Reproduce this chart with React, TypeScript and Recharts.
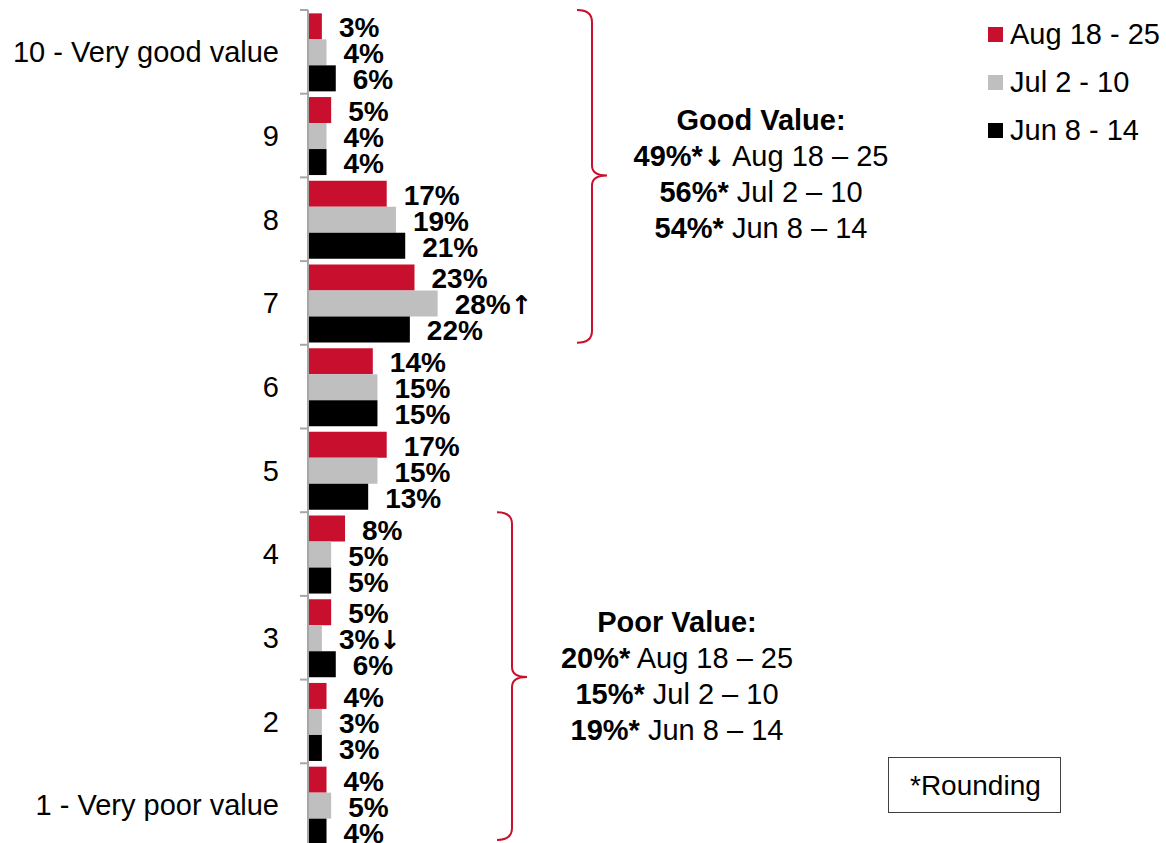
import React from "react";
import { BarChart, Bar, XAxis, YAxis, LabelList, Legend } from "recharts";

// rating categories, top to bottom
const categories = [
  "10 - Very good value",
  "9",
  "8",
  "7",
  "6",
  "5",
  "4",
  "3",
  "2",
  "1 - Very poor value",
];
const aug = [3, 5, 17, 23, 14, 17, 8, 5, 4, 4];
const jul = [4, 4, 19, 28, 15, 15, 5, 3, 3, 5];
const jun = [6, 4, 21, 22, 15, 13, 5, 6, 3, 4];
const julArrows = ["", "", "", "↑", "", "", "", "↓", "", ""];

const seriesNames = ["Aug 18 - 25", "Jul 2 - 10", "Jun 8 - 14"];
const seriesColors = ["#C8102E", "#BFBFBF", "#000000"];

const periods = ["Aug 18 – 25", "Jul 2 – 10", "Jun 8 – 14"];
const goodTotals = ["49%*", "56%*", "54%*"];
const goodArrows = ["↓", "", ""];
const poorTotals = ["20%*", "15%*", "19%*"];

const data = categories.map((name, i) => ({
  name,
  aug: aug[i],
  jul: jul[i],
  jun: jun[i],
  augLabel: `${aug[i]}%`,
  julLabel: `${jul[i]}%${julArrows[i]}`,
  junLabel: `${jun[i]}%`,
}));

const W = 1166;
const H = 850;
const PLOT_TOP = 10;
const PLOT_BOTTOM = 847;
const PLOT_LEFT = 308;
const PLOT_W = 463;
const BAND = (PLOT_BOTTOM - PLOT_TOP) / categories.length;
const FONT = "'Liberation Sans', Arial, sans-serif";
const ARROW_FONT = "'DejaVu Sans', sans-serif";
const RED = "#C8102E";
const AXIS = "#A6A6A6";

// value label with an optional change arrow
const renderBarLabel = (props: any) => {
  const { x, y, width, height, value } = props;
  const s = String(value);
  const m = s.match(/[↑↓]/);
  const main = m ? s.replace(m[0], "") : s;
  return (
    <text
      x={Number(x) + Number(width) + 17}
      y={Number(y) + Number(height) / 2 + 11}
      fontSize={28}
      fontWeight="bold"
      fill="#000"
      fontFamily={FONT}
    >
      {main}
      {m && (
        <tspan fontFamily={ARROW_FONT} fontWeight="bold" fontSize={26}>
          {m[0]}
        </tspan>
      )}
    </text>
  );
};

// curly brace, opening to the left
const brace = (x: number, top: number, bottom: number, tipY: number) => {
  const v = x + 15;
  const t = x + 30;
  return `M${x},${top} Q${v},${top} ${v},${top + 12} L${v},${tipY - 10} Q${v},${tipY} ${t},${tipY} Q${v},${tipY} ${v},${tipY + 10} L${v},${bottom - 12} Q${v},${bottom} ${x},${bottom}`;
};

const renderLegend = () => (
  <div style={{ fontFamily: FONT }}>
    {seriesNames.map((n, i) => (
      <div
        key={n}
        style={{ display: "flex", alignItems: "center", height: 48, fontSize: 29 }}
      >
        <span
          style={{
            width: 15,
            height: 15,
            background: seriesColors[i],
            marginRight: 7,
            display: "inline-block",
          }}
        />
        <span>{n}</span>
      </div>
    ))}
  </div>
);

const Summary = ({
  x,
  y,
  title,
  totals,
  arrows,
}: {
  x: number;
  y: number;
  title: string;
  totals: string[];
  arrows: string[];
}) => (
  <text x={x} textAnchor="middle" fontSize={29} fill="#000">
    <tspan x={x} y={y} fontWeight="bold">
      {title}
    </tspan>
    {totals.map((t, i) => (
      <tspan key={i} x={x} y={y + 36 * (i + 1)}>
        <tspan fontWeight="bold">{t}</tspan>
        {arrows[i] && (
          <tspan fontWeight="bold" fontFamily={ARROW_FONT} fontSize={27}>
            {arrows[i]}
          </tspan>
        )}
        {" " + periods[i]}
      </tspan>
    ))}
  </text>
);

export default function App() {
  const boundaries = Array.from({ length: categories.length + 1 }, (_, i) => PLOT_TOP + i * BAND);
  return (
    <div
      style={{
        position: "fixed",
        left: 0,
        top: 0,
        width: W,
        height: 843,
        overflow: "hidden",
        background: "#fff",
        fontFamily: FONT,
      }}
    >
      <div style={{ position: "relative", width: W, height: H }}>
        <BarChart
          width={W}
          height={H}
          data={data}
          layout="vertical"
          margin={{ top: PLOT_TOP, bottom: H - PLOT_BOTTOM, left: 0, right: W - PLOT_LEFT - PLOT_W }}
          barCategoryGap="4%"
          barGap={0}
        >
          <XAxis type="number" domain={[0, 100]} hide />
          <YAxis
            type="category"
            dataKey="name"
            width={PLOT_LEFT}
            tickLine={false}
            tickSize={0}
            tickMargin={29}
            axisLine={{ stroke: AXIS, strokeWidth: 2 }}
            tick={{ fontSize: 29, fill: "#000" }}
            interval={0}
          />
          <Legend
            layout="vertical"
            align="center"
            verticalAlign="middle"
            wrapperStyle={{ left: 988, top: 10, width: 178 }}
            content={renderLegend}
          />
          <Bar dataKey="aug" name={seriesNames[0]} fill={seriesColors[0]} isAnimationActive={false}>
            <LabelList dataKey="augLabel" content={renderBarLabel} />
          </Bar>
          <Bar dataKey="jul" name={seriesNames[1]} fill={seriesColors[1]} isAnimationActive={false}>
            <LabelList dataKey="julLabel" content={renderBarLabel} />
          </Bar>
          <Bar dataKey="jun" name={seriesNames[2]} fill={seriesColors[2]} isAnimationActive={false}>
            <LabelList dataKey="junLabel" content={renderBarLabel} />
          </Bar>
        </BarChart>
        <svg
          width={W}
          height={H}
          style={{ position: "absolute", left: 0, top: 0, pointerEvents: "none" }}
        >
          {boundaries.map((y, i) => (
            <line key={i} x1={PLOT_LEFT - 8} x2={PLOT_LEFT} y1={y} y2={y} stroke={AXIS} strokeWidth={2} />
          ))}
          <path
            d={brace(577, boundaries[0], boundaries[4] - 2, (boundaries[0] + boundaries[4]) / 2 - 2)}
            fill="none"
            stroke={RED}
            strokeWidth={2}
          />
          <path
            d={brace(497, boundaries[6], 840, 677)}
            fill="none"
            stroke={RED}
            strokeWidth={2}
          />
          <Summary x={761} y={130} title="Good Value:" totals={goodTotals} arrows={goodArrows} />
          <Summary x={677} y={632} title="Poor Value:" totals={poorTotals} arrows={["", "", ""]} />
          <rect x={888.5} y={757.5} width={172} height={55} fill="#fff" stroke="#404040" strokeWidth={1} />
          <text x={910} y={795} fontSize={28} fill="#000">
            *Rounding
          </text>
        </svg>
      </div>
    </div>
  );
}
